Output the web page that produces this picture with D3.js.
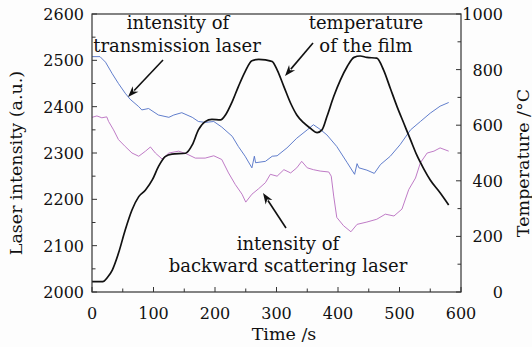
<!DOCTYPE html>
<html><head><meta charset="utf-8">
<script src="https://cdn.jsdelivr.net/npm/d3@7"></script>
<style>
html,body{margin:0;padding:0;background:#fdfdfd;}
svg{display:block;font-family:"DejaVu Serif",serif;}
</style></head>
<body><svg id="c" width="532" height="347"></svg>
<script>
// ---- data ----
const transTime = [0,13,22,33,43,54,62,76,81,92,108,125,133,146,163,173,184,198,211,228,238,249,260,264,266,282,293,301,317,333,350,360,371,382,398,415,427,431,434,447,459,469,485,501,518,534,550,566,580];
const transVal  = [2508,2508,2496,2471,2450,2429,2416,2400,2393,2396,2382,2377,2382,2387,2377,2368,2366,2368,2356,2336,2314,2293,2268,2293,2279,2282,2293,2294,2311,2332,2350,2361,2351,2339,2314,2279,2254,2277,2268,2263,2256,2275,2293,2318,2350,2368,2386,2401,2409];

const backTime = [0,8,16,24,27,35,43,54,65,76,87,95,103,114,125,141,154,168,184,198,211,222,233,244,250,260,271,282,290,301,312,323,333,341,350,360,371,385,389,393,398,409,421,431,447,463,477,491,504,515,526,534,545,556,566,580];
const backVal  = [2377,2380,2376,2378,2368,2350,2329,2314,2300,2293,2304,2313,2300,2287,2300,2304,2298,2289,2289,2294,2286,2257,2232,2211,2194,2211,2223,2236,2254,2250,2264,2257,2268,2282,2268,2264,2261,2259,2250,2207,2161,2143,2130,2146,2151,2157,2168,2164,2179,2221,2246,2279,2300,2304,2311,2304];

const tempTime = [0,15,20,25,33,43,54,65,76,87,98,108,119,130,152,163,173,184,195,209,217,228,238,249,260,271,282,293,301,312,323,333,344,355,366,374,382,393,404,415,426,436,447,463,474,485,496,507,518,528,539,550,566,580];
const tempVal  = [37,37,40,52,79,139,223,295,343,367,403,451,487,496,499,529,583,613,621,619,637,685,739,793,832,837,835,829,799,739,679,637,609,589,573,583,631,703,763,811,844,849,844,841,799,733,667,607,547,493,445,403,357,313];

const xTicks = [0,100,200,300,400,500,600];
const yLeftTicks = [2000,2100,2200,2300,2400,2500,2600];
const yRightTicks = [0,200,400,600,800,1000];

// ---- layout ----
const svg = d3.select("#c");
const L = 92, R = 461, T = 14, B = 292;
const x = d3.scaleLinear().domain([0,600]).range([L,R]);
const yl = d3.scaleLinear().domain([2000,2600]).range([B,T]);
const yr = d3.scaleLinear().domain([0,1000]).range([B,T]);
const axisColor = "#333";

const lineL = d3.line().x(d=>x(d[0])).y(d=>yl(d[1]));
const lineR = d3.line().x(d=>x(d[0])).y(d=>yr(d[1])).curve(d3.curveMonotoneX);

svg.append("path").datum(backTime.map((t,i)=>[t,backVal[i]]))
  .attr("d", lineL).attr("fill","none").attr("stroke","#b86cc0").attr("stroke-width",0.9);
svg.append("path").datum(transTime.map((t,i)=>[t,transVal[i]]))
  .attr("d", lineL).attr("fill","none").attr("stroke","#4f6fc6").attr("stroke-width",0.9);
svg.append("path").datum(tempTime.map((t,i)=>[t,tempVal[i]]))
  .attr("d", lineR).attr("fill","none").attr("stroke","#111").attr("stroke-width",1.7);

// frame
const g = svg.append("g").attr("stroke",axisColor).attr("stroke-width",1.2).attr("fill","none");
g.append("rect").attr("x",L).attr("y",T).attr("width",R-L).attr("height",B-T);

// ticks
const tk = svg.append("g").attr("stroke",axisColor).attr("stroke-width",1);
d3.range(0,601,50).forEach(v=>{
  const len = v%100===0?5:3.5;
  tk.append("line").attr("x1",x(v)).attr("x2",x(v)).attr("y1",B).attr("y2",B-len);
});
d3.range(2000,2601,50).forEach(v=>{
  const len = v%100===0?5:3.5;
  tk.append("line").attr("x1",L).attr("x2",L+len).attr("y1",yl(v)).attr("y2",yl(v));
});
d3.range(0,1001,100).forEach(v=>{
  const len = v%200===0?5:3.5;
  tk.append("line").attr("x1",R).attr("x2",R-len).attr("y1",yr(v)).attr("y2",yr(v));
});

// tick labels
const lab = svg.append("g").attr("font-size",16).attr("fill","#111");
xTicks.forEach(v=>lab.append("text").attr("x",x(v)).attr("y",319).attr("text-anchor","middle").text(v));
yLeftTicks.forEach(v=>lab.append("text").attr("x",84).attr("y",yl(v)+6).attr("text-anchor","end").text(v));
yRightTicks.forEach(v=>lab.append("text").attr("x",503).attr("y",yr(v)+6).attr("text-anchor","end").text(v));

// axis titles
const tl = svg.append("g").attr("font-size",17.5).attr("fill","#111").attr("text-anchor","middle");
tl.append("text").attr("x",284).attr("y",340).text("Time /s");
tl.append("text").attr("transform","translate(22,163) rotate(-90)").text("Laser intensity (a.u.)");
tl.append("text").attr("transform","translate(529,163) rotate(-90)").text("Temperature /°C");

// annotations
const ann = svg.append("g").attr("font-size",18).attr("fill","#111").attr("text-anchor","middle");
ann.append("text").attr("x",178).attr("y",29).text("intensity of");
ann.append("text").attr("x",177).attr("y",52).text("transmission laser");
ann.append("text").attr("x",366).attr("y",29).text("temperature");
ann.append("text").attr("x",366).attr("y",52).text("of the film");
ann.append("text").attr("x",288).attr("y",250).text("intensity of");
ann.append("text").attr("x",288).attr("y",272).text("backward scattering laser");

// arrows
function arrow(x1,y1,x2,y2){
  const a = Math.atan2(y2-y1,x2-x1), hl=11, hw=4;
  const bx = x2-hl*Math.cos(a), by = y2-hl*Math.sin(a);
  svg.append("line").attr("x1",x1).attr("y1",y1).attr("x2",bx+2*Math.cos(a)).attr("y2",by+2*Math.sin(a))
    .attr("stroke","#111").attr("stroke-width",1.6);
  const p = [[x2,y2],[bx+hw*Math.sin(a),by-hw*Math.cos(a)],[x2-0.7*hl*Math.cos(a),y2-0.7*hl*Math.sin(a)],[bx-hw*Math.sin(a),by+hw*Math.cos(a)]];
  svg.append("path").attr("d","M"+p.map(q=>q.join(",")).join("L")+"Z").attr("fill","#111");
}
arrow(163,60,128,97);
arrow(313,43,285,76);
arrow(286,228,263,193);
</script></body></html>
